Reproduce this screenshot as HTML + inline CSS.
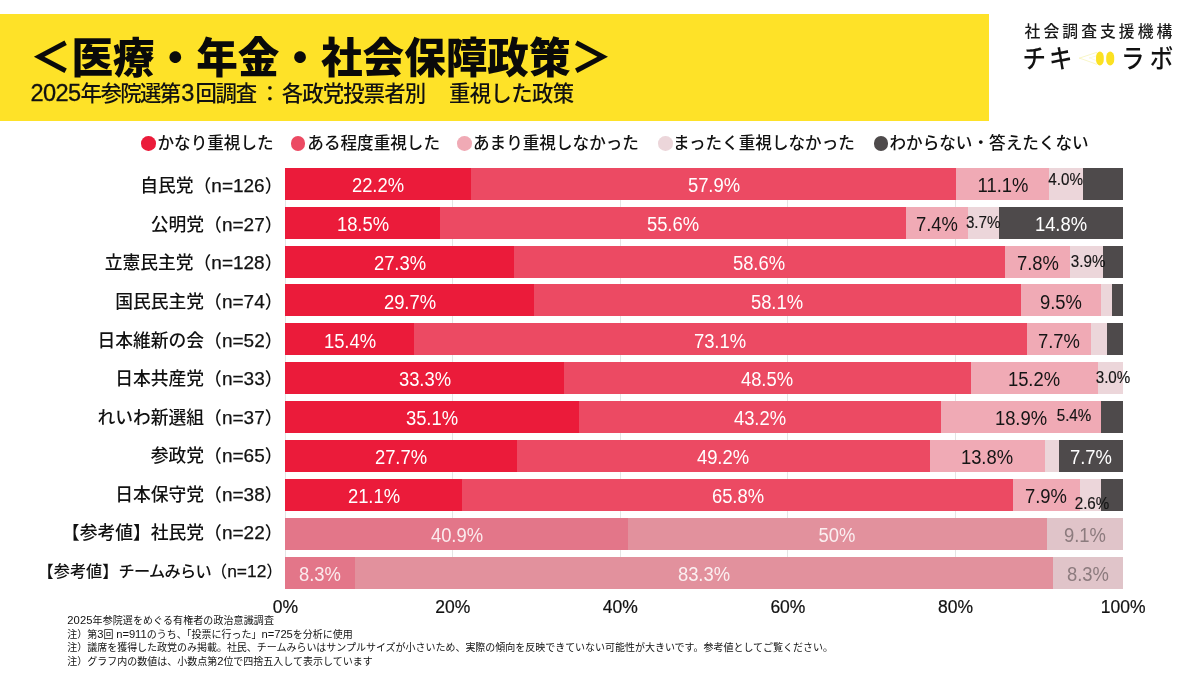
<!DOCTYPE html>
<html lang="ja"><head><meta charset="utf-8"><title>医療・年金・社会保障政策</title>
<style>
html,body{margin:0;padding:0;background:#fff;}
body{width:1200px;height:675px;position:relative;overflow:hidden;font-family:"Liberation Sans","Noto Sans CJK JP",sans-serif;color:#111;}
.abs{position:absolute;white-space:nowrap;}
.banner{position:absolute;left:0;top:14px;width:989px;height:106.5px;background:#fee228;}
.title{left:29.8px;top:29.3px;font-size:41.6px;font-weight:900;line-height:60px;color:#0a0a0a;}
.sub{left:30.5px;top:78.3px;font-size:21.4px;line-height:30px;color:#111;font-weight:500;}
.sub b{font-weight:400;font-size:23.6px;letter-spacing:-0.6px;-webkit-text-stroke:0.3px #111;}
.seg{position:absolute;height:32px;}
.grid{position:absolute;width:1px;background:#e4e4e4;top:167.7px;height:421px;}
.rl{right:917.5px;font-size:17.8px;line-height:32px;text-align:right;color:#111;margin-top:2.3px;font-weight:500;}
.r11{font-size:16.2px;}
.rl.r11 i{font-size:17.4px;}
.rl i{font-style:normal;font-weight:400;font-size:19px;-webkit-text-stroke:0.25px #111;}
.dl{font-size:19.4px;line-height:32px;transform:translateX(-50%) scaleX(.95);color:#fff;margin-top:1.3px;}
.dk{color:#151515;}
.sm{font-size:15.2px;transform:translateX(-50%) scaleY(1.1);-webkit-text-stroke:0.15px #151515;}
.fd{color:rgba(255,255,255,.85);}
.gr{color:#8c7b7e;}
.ax{font-size:17.5px;line-height:20px;top:597px;transform:translateX(-50%);color:#111;-webkit-text-stroke:0.2px #111;}
.lg{font-size:16.6px;line-height:24px;top:132.2px;color:#111;font-weight:500;}
.dot{position:absolute;width:14.6px;height:14.6px;border-radius:50%;top:136.2px;}
.fn{left:67.3px;font-size:10px;line-height:14px;height:14px;color:#111;}
.fn i{font-style:normal;font-size:11.2px;line-height:1px;}
.lg1{left:1024.6px;top:20.6px;font-size:15.8px;letter-spacing:3.05px;line-height:22px;color:#1a1a1a;font-weight:500;}
.lg2{top:42px;font-size:23.5px;line-height:34px;color:#111;font-weight:500;transform:scaleY(1.12);}
</style></head><body>
<div class="banner"></div>
<div class="abs title">＜医療・年金・社会保障政策＞</div>
<div class="abs sub"><b>2025</b><span style="letter-spacing:-1.6px">年参院選第</span><b style="padding:0 1.6px 0 1.8px">3</b><span style="letter-spacing:-1.3px">回調査</span><span style="letter-spacing:1.1px;margin-left:3.6px">：</span><span style="letter-spacing:-0.9px">各政党投票者別</span><span style="letter-spacing:2.3px">　</span><span style="letter-spacing:-0.65px">重視した政策</span></div>
<div class="abs lg1">社会調査支援機構</div>
<div class="abs lg2" style="left:1022.6px;letter-spacing:3px">チキ</div>
<div class="abs lg2" style="left:1121px;letter-spacing:5.3px">ラボ</div>
<svg class="abs" style="left:1070px;top:40px" width="60" height="40" viewBox="0 0 60 40">
<path d="M9.5 18.1 L26.6 12.4 M9.5 18.1 L26.6 24.2" fill="none" stroke="#f4f0a2" stroke-width="0.6" stroke-linecap="round"/>
<path d="M19.5 17.9 L26.4 15.9 M19.5 17.9 L26.4 20.6" fill="none" stroke="#f7f4bd" stroke-width="0.5" stroke-linecap="round"/>
<rect x="26.05" y="11.5" width="7.7" height="14" rx="3.85" ry="5.6" fill="#fbe122"/>
<rect x="36.2" y="11.5" width="8" height="14" rx="4" ry="5.6" fill="#fbe122"/>
</svg>

<div class="dot" style="left:141.2px;background:#eb1b3a"></div><div class="abs lg" style="left:157.5px">かなり重視した</div>
<div class="dot" style="left:290.8px;background:#ec4a63"></div><div class="abs lg" style="left:307.3px">ある程度重視した</div>
<div class="dot" style="left:457.3px;background:#f0aab5"></div><div class="abs lg" style="left:473px">あまり重視しなかった</div>
<div class="dot" style="left:658.2px;background:#ecd6da"></div><div class="abs lg" style="left:673px">まったく重視しなかった</div>
<div class="dot" style="left:873.8px;background:#4e4a4b"></div><div class="abs lg" style="left:889.5px">わからない・答えたくない</div>
<div class="grid" style="left:284.6px"></div>
<div class="abs ax" style="left:285.5px">0%</div>
<div class="grid" style="left:452.2px"></div>
<div class="abs ax" style="left:452.7px">20%</div>
<div class="grid" style="left:619.8px"></div>
<div class="abs ax" style="left:620.3px">40%</div>
<div class="grid" style="left:787.4px"></div>
<div class="abs ax" style="left:787.9px">60%</div>
<div class="grid" style="left:955.0px"></div>
<div class="abs ax" style="left:955.5px">80%</div>
<div class="abs ax" style="left:1123.1px">100%</div>
<div class="abs rl" style="top:168.1px">自民党（<i>n=126</i>）</div>
<div class="seg" style="left:285.1px;top:167.7px;width:838.0px;background:#eb1b3a"></div>
<div class="seg" style="left:471.1px;top:167.7px;width:652.0px;background:#ec4a63"></div>
<div class="seg" style="left:956.3px;top:167.7px;width:166.8px;background:#f0aab5"></div>
<div class="seg" style="left:1049.4px;top:167.7px;width:73.7px;background:#ecd6da"></div>
<div class="seg" style="left:1082.9px;top:167.7px;width:40.2px;background:#4e4a4b"></div>
<div class="abs rl" style="top:206.6px">公明党（<i>n=27</i>）</div>
<div class="seg" style="left:285.1px;top:206.6px;width:838.0px;background:#eb1b3a"></div>
<div class="seg" style="left:440.1px;top:206.6px;width:683.0px;background:#ec4a63"></div>
<div class="seg" style="left:906.1px;top:206.6px;width:217.0px;background:#f0aab5"></div>
<div class="seg" style="left:968.1px;top:206.6px;width:155.0px;background:#ecd6da"></div>
<div class="seg" style="left:999.1px;top:206.6px;width:124.0px;background:#4e4a4b"></div>
<div class="abs rl" style="top:245.2px">立憲民主党（<i>n=128</i>）</div>
<div class="seg" style="left:285.1px;top:245.5px;width:838.0px;background:#eb1b3a"></div>
<div class="seg" style="left:513.9px;top:245.5px;width:609.2px;background:#ec4a63"></div>
<div class="seg" style="left:1004.9px;top:245.5px;width:118.2px;background:#f0aab5"></div>
<div class="seg" style="left:1070.3px;top:245.5px;width:52.8px;background:#ecd6da"></div>
<div class="seg" style="left:1103.0px;top:245.5px;width:20.1px;background:#4e4a4b"></div>
<div class="abs rl" style="top:283.8px">国民民主党（<i>n=74</i>）</div>
<div class="seg" style="left:285.1px;top:284.4px;width:838.0px;background:#eb1b3a"></div>
<div class="seg" style="left:534.0px;top:284.4px;width:589.1px;background:#ec4a63"></div>
<div class="seg" style="left:1020.9px;top:284.4px;width:102.2px;background:#f0aab5"></div>
<div class="seg" style="left:1100.5px;top:284.4px;width:22.6px;background:#ecd6da"></div>
<div class="seg" style="left:1111.8px;top:284.4px;width:11.3px;background:#4e4a4b"></div>
<div class="abs rl" style="top:322.3px">日本維新の会（<i>n=52</i>）</div>
<div class="seg" style="left:285.1px;top:323.3px;width:838.0px;background:#eb1b3a"></div>
<div class="seg" style="left:414.2px;top:323.3px;width:708.9px;background:#ec4a63"></div>
<div class="seg" style="left:1026.7px;top:323.3px;width:96.4px;background:#f0aab5"></div>
<div class="seg" style="left:1091.3px;top:323.3px;width:31.8px;background:#ecd6da"></div>
<div class="seg" style="left:1107.2px;top:323.3px;width:15.9px;background:#4e4a4b"></div>
<div class="abs rl" style="top:360.9px">日本共産党（<i>n=33</i>）</div>
<div class="seg" style="left:285.1px;top:362.2px;width:838.0px;background:#eb1b3a"></div>
<div class="seg" style="left:564.2px;top:362.2px;width:558.9px;background:#ec4a63"></div>
<div class="seg" style="left:970.6px;top:362.2px;width:152.5px;background:#f0aab5"></div>
<div class="seg" style="left:1098.0px;top:362.2px;width:25.1px;background:#ecd6da"></div>
<div class="abs rl" style="top:399.4px">れいわ新選組（<i>n=37</i>）</div>
<div class="seg" style="left:285.1px;top:401.1px;width:838.0px;background:#eb1b3a"></div>
<div class="seg" style="left:579.2px;top:401.1px;width:543.9px;background:#ec4a63"></div>
<div class="seg" style="left:941.3px;top:401.1px;width:181.8px;background:#f0aab5"></div>
<div class="seg" style="left:1101.3px;top:401.1px;width:21.8px;background:#4e4a4b"></div>
<div class="abs rl" style="top:437.9px">参政党（<i>n=65</i>）</div>
<div class="seg" style="left:285.1px;top:440.0px;width:838.0px;background:#eb1b3a"></div>
<div class="seg" style="left:517.2px;top:440.0px;width:605.9px;background:#ec4a63"></div>
<div class="seg" style="left:929.5px;top:440.0px;width:193.6px;background:#f0aab5"></div>
<div class="seg" style="left:1045.2px;top:440.0px;width:77.9px;background:#ecd6da"></div>
<div class="seg" style="left:1058.8px;top:440.0px;width:64.3px;background:#4e4a4b"></div>
<div class="abs rl" style="top:476.5px">日本保守党（<i>n=38</i>）</div>
<div class="seg" style="left:285.1px;top:478.9px;width:838.0px;background:#eb1b3a"></div>
<div class="seg" style="left:461.9px;top:478.9px;width:661.2px;background:#ec4a63"></div>
<div class="seg" style="left:1013.3px;top:478.9px;width:109.8px;background:#f0aab5"></div>
<div class="seg" style="left:1079.5px;top:478.9px;width:43.6px;background:#ecd6da"></div>
<div class="seg" style="left:1101.3px;top:478.9px;width:21.8px;background:#4e4a4b"></div>
<div class="abs rl" style="top:515.0px">【参考値】社民党（<i>n=22</i>）</div>
<div class="seg" style="left:285.1px;top:517.8px;width:838.0px;background:#e37689"></div>
<div class="seg" style="left:627.8px;top:517.8px;width:495.3px;background:#e2919d"></div>
<div class="seg" style="left:1046.8px;top:517.8px;width:76.3px;background:#e0c4c9"></div>
<div class="abs rl r11" style="top:552.4px">【参考値】<span style="letter-spacing:-0.7px">チームみらい</span>（<i>n=12</i>）</div>
<div class="seg" style="left:285.1px;top:556.7px;width:838.0px;background:#e37689"></div>
<div class="seg" style="left:354.9px;top:556.7px;width:768.2px;background:#e2919d"></div>
<div class="seg" style="left:1053.2px;top:556.7px;width:69.9px;background:#e0c4c9"></div>
<div class="abs dl " style="left:378.1px;top:167.7px">22.2%</div>
<div class="abs dl " style="left:713.7px;top:167.7px">57.9%</div>
<div class="abs dl dk" style="left:1002.8px;top:167.7px">11.1%</div>
<div class="abs dl " style="left:362.6px;top:206.6px">18.5%</div>
<div class="abs dl " style="left:673.1px;top:206.6px">55.6%</div>
<div class="abs dl dk" style="left:937.1px;top:206.6px">7.4%</div>
<div class="abs dl " style="left:399.5px;top:245.5px">27.3%</div>
<div class="abs dl " style="left:759.4px;top:245.5px">58.6%</div>
<div class="abs dl dk" style="left:1037.6px;top:245.5px">7.8%</div>
<div class="abs dl " style="left:409.5px;top:284.4px">29.7%</div>
<div class="abs dl " style="left:777.4px;top:284.4px">58.1%</div>
<div class="abs dl dk" style="left:1060.7px;top:284.4px">9.5%</div>
<div class="abs dl " style="left:349.6px;top:323.3px">15.4%</div>
<div class="abs dl " style="left:720.4px;top:323.3px">73.1%</div>
<div class="abs dl dk" style="left:1059.0px;top:323.3px">7.7%</div>
<div class="abs dl " style="left:424.6px;top:362.2px">33.3%</div>
<div class="abs dl " style="left:767.4px;top:362.2px">48.5%</div>
<div class="abs dl dk" style="left:1034.3px;top:362.2px">15.2%</div>
<div class="abs dl " style="left:432.2px;top:401.1px">35.1%</div>
<div class="abs dl " style="left:760.2px;top:401.1px">43.2%</div>
<div class="abs dl dk" style="left:1021.3px;top:401.1px">18.9%</div>
<div class="abs dl " style="left:401.2px;top:440.0px">27.7%</div>
<div class="abs dl " style="left:723.4px;top:440.0px">49.2%</div>
<div class="abs dl dk" style="left:987.3px;top:440.0px">13.8%</div>
<div class="abs dl " style="left:373.5px;top:478.9px">21.1%</div>
<div class="abs dl " style="left:737.6px;top:478.9px">65.8%</div>
<div class="abs dl dk" style="left:1046.4px;top:478.9px">7.9%</div>
<div class="abs dl fd" style="left:456.5px;top:517.8px">40.9%</div>
<div class="abs dl fd" style="left:837.3px;top:517.8px">50%</div>
<div class="abs dl gr" style="left:1085.0px;top:517.8px">9.1%</div>
<div class="abs dl fd" style="left:320.0px;top:556.7px">8.3%</div>
<div class="abs dl fd" style="left:704.1px;top:556.7px">83.3%</div>
<div class="abs dl gr" style="left:1088.2px;top:556.7px">8.3%</div>
<div class="abs dl " style="left:1061.1px;top:206.6px">14.8%</div>
<div class="abs dl " style="left:1091.0px;top:440.0px">7.7%</div>
<div class="abs dl dk sm" style="left:1065.6px;top:161.8px">4.0%</div>
<div class="abs dl dk sm" style="left:983.2px;top:205.0px">3.7%</div>
<div class="abs dl dk sm" style="left:1088.1px;top:244.3px">3.9%</div>
<div class="abs dl dk sm" style="left:1113.0px;top:359.8px">3.0%</div>
<div class="abs dl dk sm" style="left:1074.0px;top:398.0px">5.4%</div>
<div class="abs dl dk sm" style="left:1092.0px;top:485.9px">2.6%</div>
<div class="abs fn" style="top:614.1px;letter-spacing:0.09px"><i>2025</i>年参院選をめぐる有権者の政治意識調査</div>
<div class="abs fn" style="top:627.7px;letter-spacing:-0.02px">注）第<i>3</i>回 <i>n=911</i>のうち、「投票に行った」<i>n=725</i>を分析に使用</div>
<div class="abs fn" style="top:641.3px;letter-spacing:-0.025px">注）議席を獲得した政党のみ掲載。社民、チームみらいはサンプルサイズが小さいため、実際の傾向を反映できていない可能性が大きいです。参考値としてご覧ください。</div>
<div class="abs fn" style="top:654.9px;letter-spacing:-0.01px">注）グラフ内の数値は、小数点第<i>2</i>位で四捨五入して表示しています</div>
</body></html>
